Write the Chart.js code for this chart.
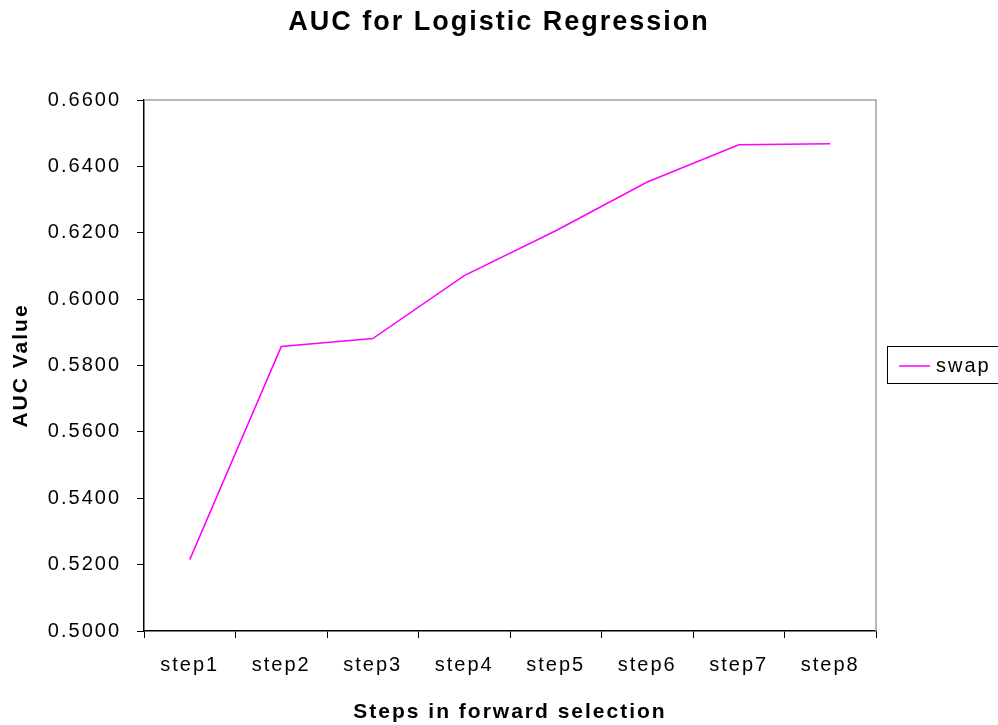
<!DOCTYPE html>
<html lang="en">
<head>
  <meta charset="UTF-8" />
  <title>AUC for Logistic Regression</title>
  <style>
    body {
      margin: 0;
      padding: 0;
      background: #ffffff;
    }

    .wrap {
      width: 998px;
      height: 725px;
    }
  </style>
</head>
<body>
  <div class="wrap">
    <canvas id="aucChart" width="998" height="725"></canvas>
  </div>

  <script src="https://cdn.jsdelivr.net/npm/chart.js"></script>
  <script>
    const steps = ['step1', 'step2', 'step3', 'step4', 'step5', 'step6', 'step7', 'step8'];
    const swapValues = [0.5215, 0.5857, 0.5881, 0.6071, 0.6206, 0.6353, 0.6465, 0.6468];
    const yTicks = [0.50, 0.52, 0.54, 0.56, 0.58, 0.60, 0.62, 0.64, 0.66];

    const FONT = "'Liberation Sans', Arial, sans-serif";

    // Excel-style spaced-out lettering on every canvas text
    const spacing = {
      id: 'spacing',
      beforeLayout(chart) { chart.ctx.letterSpacing = '2px'; },
      beforeDraw(chart) { chart.ctx.letterSpacing = '2px'; }
    };

    // grey top and right edges of the plot area
    const plotFrame = {
      id: 'plotFrame',
      beforeDatasetsDraw(chart) {
        const { ctx, chartArea: a } = chart;
        ctx.save();
        ctx.strokeStyle = '#a0a0a0';
        ctx.lineWidth = 1.5;
        ctx.beginPath();
        ctx.moveTo(a.left, a.top);
        ctx.lineTo(a.right, a.top);
        ctx.lineTo(a.right, a.bottom);
        ctx.stroke();
        ctx.restore();
      }
    };

    // boxed legend on the right, like the spreadsheet one
    const boxLegend = {
      id: 'boxLegend',
      afterDraw(chart) {
        const { ctx } = chart;
        const ds = chart.data.datasets[0];
        ctx.save();
        ctx.letterSpacing = '2px';
        ctx.strokeStyle = '#000';
        ctx.lineWidth = 1;
        ctx.strokeRect(887.5, 346.5, 120, 37);
        ctx.strokeStyle = ds.borderColor;
        ctx.lineWidth = 1.5;
        ctx.beginPath();
        ctx.moveTo(899, 366);
        ctx.lineTo(930, 366);
        ctx.stroke();
        ctx.fillStyle = '#000';
        ctx.font = '20px ' + FONT;
        ctx.textBaseline = 'middle';
        ctx.fillText(ds.label, 936, 366);
        ctx.restore();
      }
    };

    const ctx = document.getElementById('aucChart').getContext('2d');

    new Chart(ctx, {
      type: 'line',
      data: {
        labels: steps,
        datasets: [{
          label: 'swap',
          data: swapValues,
          borderColor: '#ff00ff',
          borderWidth: 1.5,
          pointRadius: 0,
          tension: 0,
          fill: false
        }]
      },
      options: {
        responsive: false,
        animation: false,
        layout: {
          padding: 0
        },
        plugins: {
          legend: { display: false },
          tooltip: { enabled: false },
          title: {
            display: true,
            text: 'AUC for Logistic Regression',
            color: '#000',
            font: { family: FONT, size: 27, weight: 'bold' },
            padding: { top: 6, bottom: 61.6 }
          }
        },
        scales: {
          x: {
            offset: true,
            grid: {
              offset: true,
              drawOnChartArea: false,
              drawTicks: true,
              tickLength: 7,
              color: '#000'
            },
            border: { display: true, color: '#000', width: 1.5 },
            ticks: {
              color: '#000',
              padding: 15,
              maxRotation: 0,
              font: { family: FONT, size: 20 }
            },
            title: {
              display: true,
              text: 'Steps in forward selection',
              color: '#000',
              font: { family: FONT, size: 21, weight: 'bold' },
              padding: { top: 0, bottom: 0 }
            },
            afterFit(scale) { scale.height = 94; }
          },
          y: {
            min: 0.5,
            max: 0.66,
            afterBuildTicks(scale) {
              scale.ticks = yTicks.map(v => ({ value: v }));
            },
            grid: {
              drawOnChartArea: false,
              drawTicks: true,
              tickLength: 7,
              color: '#000'
            },
            border: { display: true, color: '#000', width: 1.5 },
            ticks: {
              color: '#000',
              padding: 16,
              font: { family: FONT, size: 20 },
              callback: v => Number(v).toFixed(4)
            },
            title: {
              display: true,
              text: 'AUC Value',
              color: '#000',
              font: { family: FONT, size: 21, weight: 'bold' },
              padding: { top: 9, bottom: 0 }
            },
            afterFit(scale) { scale.width = 144; }
          },
          // empty right-hand strip that holds room for the legend box
          legendSpace: {
            type: 'linear',
            position: 'right',
            grid: { display: false, drawTicks: false },
            border: { display: false },
            ticks: { display: false },
            afterFit(scale) { scale.width = 122; }
          }
        }
      },
      plugins: [spacing, plotFrame, boxLegend]
    });
  </script>
</body>
</html>
